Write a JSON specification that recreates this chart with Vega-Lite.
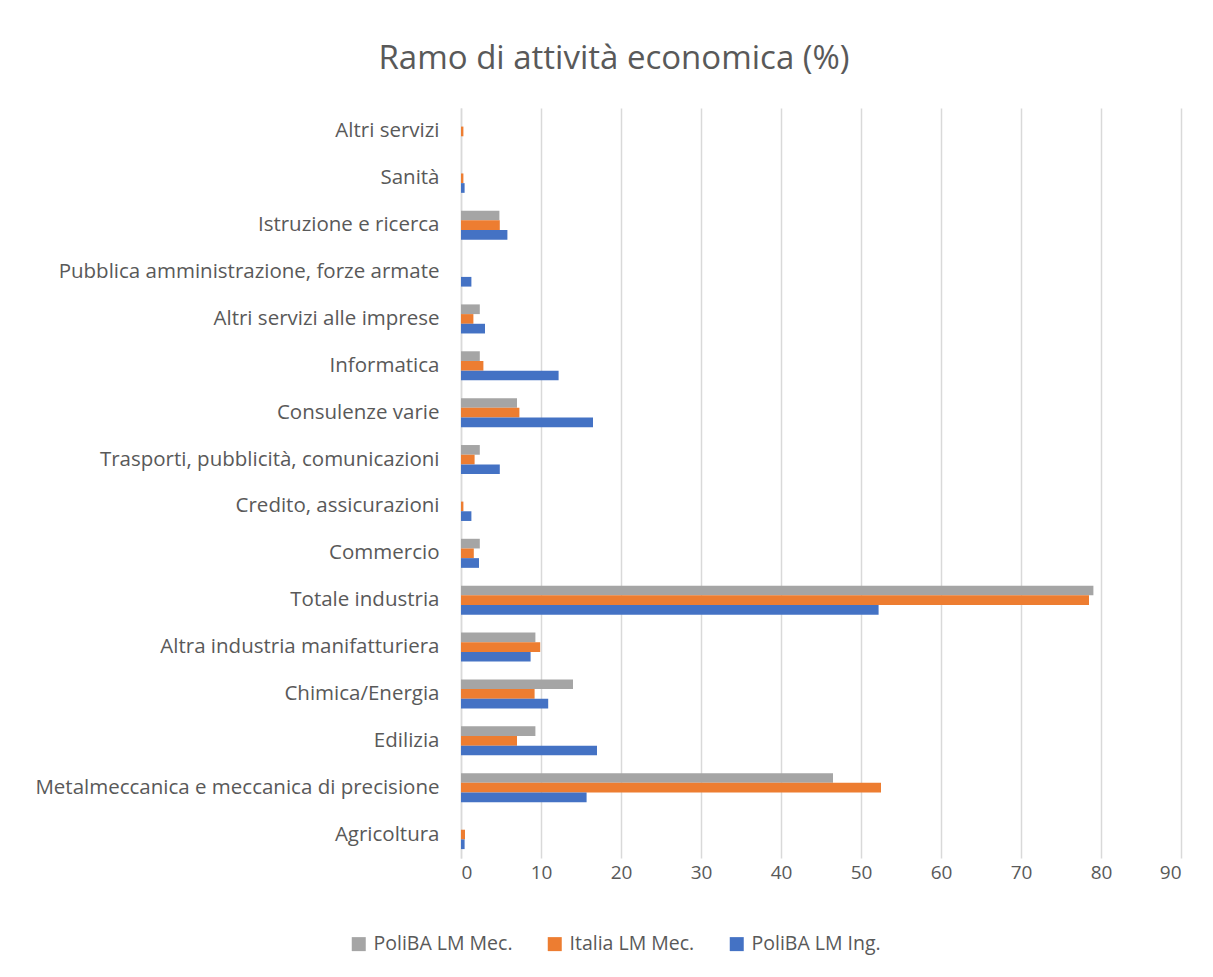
{
  "$schema": "https://vega.github.io/schema/vega-lite/v6.json",
  "width": 720,
  "height": 750,
  "autosize": "none",
  "padding": {"left": 461, "top": 108, "right": 32, "bottom": 119},
  "background": "white",
  "title": {
    "text": "Ramo di attività economica (%)",
    "font": "Open Sans",
    "fontSize": 33,
    "fontWeight": "normal",
    "color": "#595959",
    "anchor": "middle",
    "frame": "group",
    "dx": -207,
    "offset": 32
  },
  "data": {
    "values": [
      {"cat": "Altri servizi", "s": "PoliBA LM Mec.", "v": 0},
      {"cat": "Altri servizi", "s": "Italia LM Mec.", "v": 0.3},
      {"cat": "Altri servizi", "s": "PoliBA LM Ing.", "v": 0},
      {"cat": "Sanità", "s": "PoliBA LM Mec.", "v": 0},
      {"cat": "Sanità", "s": "Italia LM Mec.", "v": 0.3},
      {"cat": "Sanità", "s": "PoliBA LM Ing.", "v": 0.45},
      {"cat": "Istruzione e ricerca", "s": "PoliBA LM Mec.", "v": 4.8},
      {"cat": "Istruzione e ricerca", "s": "Italia LM Mec.", "v": 4.85},
      {"cat": "Istruzione e ricerca", "s": "PoliBA LM Ing.", "v": 5.8},
      {"cat": "Pubblica amministrazione, forze armate", "s": "PoliBA LM Mec.", "v": 0},
      {"cat": "Pubblica amministrazione, forze armate", "s": "Italia LM Mec.", "v": 0},
      {"cat": "Pubblica amministrazione, forze armate", "s": "PoliBA LM Ing.", "v": 1.3},
      {"cat": "Altri servizi alle imprese", "s": "PoliBA LM Mec.", "v": 2.35},
      {"cat": "Altri servizi alle imprese", "s": "Italia LM Mec.", "v": 1.55},
      {"cat": "Altri servizi alle imprese", "s": "PoliBA LM Ing.", "v": 3.0},
      {"cat": "Informatica", "s": "PoliBA LM Mec.", "v": 2.35},
      {"cat": "Informatica", "s": "Italia LM Mec.", "v": 2.8},
      {"cat": "Informatica", "s": "PoliBA LM Ing.", "v": 12.2},
      {"cat": "Consulenze varie", "s": "PoliBA LM Mec.", "v": 7.0},
      {"cat": "Consulenze varie", "s": "Italia LM Mec.", "v": 7.3},
      {"cat": "Consulenze varie", "s": "PoliBA LM Ing.", "v": 16.5},
      {"cat": "Trasporti, pubblicità, comunicazioni", "s": "PoliBA LM Mec.", "v": 2.35},
      {"cat": "Trasporti, pubblicità, comunicazioni", "s": "Italia LM Mec.", "v": 1.7},
      {"cat": "Trasporti, pubblicità, comunicazioni", "s": "PoliBA LM Ing.", "v": 4.85},
      {"cat": "Credito, assicurazioni", "s": "PoliBA LM Mec.", "v": 0},
      {"cat": "Credito, assicurazioni", "s": "Italia LM Mec.", "v": 0.3},
      {"cat": "Credito, assicurazioni", "s": "PoliBA LM Ing.", "v": 1.3},
      {"cat": "Commercio", "s": "PoliBA LM Mec.", "v": 2.35},
      {"cat": "Commercio", "s": "Italia LM Mec.", "v": 1.6},
      {"cat": "Commercio", "s": "PoliBA LM Ing.", "v": 2.25},
      {"cat": "Totale industria", "s": "PoliBA LM Mec.", "v": 79.05},
      {"cat": "Totale industria", "s": "Italia LM Mec.", "v": 78.5},
      {"cat": "Totale industria", "s": "PoliBA LM Ing.", "v": 52.2},
      {"cat": "Altra industria manifatturiera", "s": "PoliBA LM Mec.", "v": 9.3},
      {"cat": "Altra industria manifatturiera", "s": "Italia LM Mec.", "v": 9.9},
      {"cat": "Altra industria manifatturiera", "s": "PoliBA LM Ing.", "v": 8.7},
      {"cat": "Chimica/Energia", "s": "PoliBA LM Mec.", "v": 14.0},
      {"cat": "Chimica/Energia", "s": "Italia LM Mec.", "v": 9.2},
      {"cat": "Chimica/Energia", "s": "PoliBA LM Ing.", "v": 10.9},
      {"cat": "Edilizia", "s": "PoliBA LM Mec.", "v": 9.3},
      {"cat": "Edilizia", "s": "Italia LM Mec.", "v": 7.0},
      {"cat": "Edilizia", "s": "PoliBA LM Ing.", "v": 17.0},
      {"cat": "Metalmeccanica e meccanica di precisione", "s": "PoliBA LM Mec.", "v": 46.5},
      {"cat": "Metalmeccanica e meccanica di precisione", "s": "Italia LM Mec.", "v": 52.5},
      {"cat": "Metalmeccanica e meccanica di precisione", "s": "PoliBA LM Ing.", "v": 15.7},
      {"cat": "Agricoltura", "s": "PoliBA LM Mec.", "v": 0},
      {"cat": "Agricoltura", "s": "Italia LM Mec.", "v": 0.5},
      {"cat": "Agricoltura", "s": "PoliBA LM Ing.", "v": 0.45}
    ]
  },
  "mark": {"type": "bar", "cornerRadius": 0},
  "encoding": {
    "y": {
      "field": "cat",
      "type": "nominal",
      "sort": null,
      "scale": {"paddingInner": 0.38, "paddingOuter": 0.19},
      "axis": {
        "title": null,
        "domain": true,
        "domainColor": "#d9d9d9",
        "domainWidth": 1.5,
        "ticks": false,
        "labelFont": "Open Sans",
        "labelFontSize": 20.5,
        "labelColor": "#595959",
        "labelPadding": 22,
        "labelLimit": 500
      }
    },
    "yOffset": {
      "field": "s",
      "type": "nominal",
      "sort": ["PoliBA LM Mec.", "Italia LM Mec.", "PoliBA LM Ing."],
      "scale": {"paddingInner": 0, "paddingOuter": 0}
    },
    "x": {
      "field": "v",
      "type": "quantitative",
      "scale": {"domain": [0, 90], "nice": false},
      "axis": {
        "title": null,
        "values": [0, 10, 20, 30, 40, 50, 60, 70, 80, 90],
        "domain": false,
        "ticks": false,
        "grid": true,
        "gridColor": "#d9d9d9",
        "gridWidth": 1.5,
        "labelFont": "Open Sans",
        "labelFontSize": 19,
        "labelColor": "#595959",
        "labelPadding": 5
      }
    },
    "color": {
      "field": "s",
      "type": "nominal",
      "sort": ["PoliBA LM Mec.", "Italia LM Mec.", "PoliBA LM Ing."],
      "scale": {
        "domain": ["PoliBA LM Mec.", "Italia LM Mec.", "PoliBA LM Ing."],
        "range": ["#a5a5a5", "#ed7d31", "#4472c4"]
      },
      "legend": {
        "title": null,
        "orient": "none",
        "direction": "horizontal",
        "legendX": -112,
        "legendY": 826,
        "symbolType": "square",
        "symbolSize": 196,
        "symbolStrokeWidth": 0,
        "labelFont": "Open Sans",
        "labelFontSize": 19.5,
        "labelColor": "#595959",
        "labelOffset": 5,
        "columnPadding": 32,
        "labelLimit": 300
      }
    }
  },
  "config": {
    "view": {"stroke": null}
  }
}
